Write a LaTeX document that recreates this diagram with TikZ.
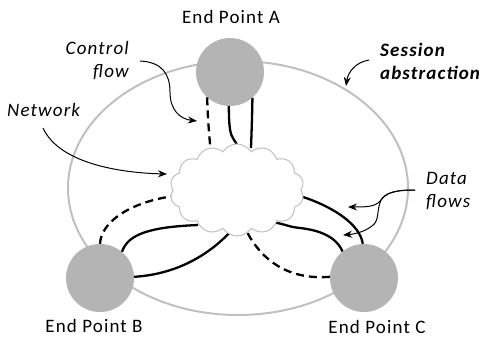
\documentclass[tikz,border=0pt]{standalone}
\usepackage{fontspec}
\setmainfont{Carlito}[LetterSpace=6]
\usetikzlibrary{shapes.symbols,arrows.meta,calc}
\definecolor{endpt}{HTML}{B4B4B4}
\definecolor{rim}{HTML}{C0C0C0}
\begin{document}
\begin{tikzpicture}[x=1pt,y=-1pt,
  lbl/.style={font=\fontsize{19}{23}\selectfont, inner sep=0pt},
  note/.style={font=\fontsize{19}{23}\selectfont\itshape, inner sep=0pt},
  endpoint/.style={circle, fill=endpt, minimum size=68pt, inner sep=0pt},
  flow/.style={line width=2.3pt, black},
  ctrl/.style={flow, dash pattern=on 8pt off 5pt},
  pointer/.style={line width=1pt, -{Stealth[length=9pt,width=7pt]}}]
\useasboundingbox (0,0) rectangle (483,341);

% session abstraction boundary
\draw[rim, line width=2pt] (238,188) ellipse [x radius=170, y radius=127];

% end points and network
\node[endpoint] (A) at (230,72) {};
\node[endpoint] (B) at (100,278) {};
\node[endpoint] (C) at (364,278) {};
\coordinate (netc) at (237,190);

% flows between end points and the network
\draw[ctrl] (A.228) .. controls (208,120) .. (211,156);
\draw[flow] (A.268) .. controls (229,128) and (230,134) .. (234,140) .. controls (237,144) .. (238,152);
\draw[flow] (A.311) .. controls (252,120) .. (251,148);

\draw[ctrl] (B.90) .. controls (101,222) and (130,202) .. (174,196);
\draw[flow] (B.50) .. controls (128,234) and (150,227) .. (198,225);
\draw[flow] (B.2) .. controls (180,274) and (212,252) .. (232,230);

\draw[flow] (C.92) .. controls (360,224) and (332,206) .. (300,196);
\draw[flow] (C.129) .. controls (336,236) and (318,230) .. (300,228) .. controls (288,227) and (283,223) .. (270,222);
\draw[ctrl] (C.178) .. controls (290,280) and (262,262) .. (246,230);

\node[cloud, draw=rim, fill=white, line width=1pt, cloud puffs=14, cloud puff arc=115,
      minimum width=134pt, minimum height=92pt, inner sep=0pt] (net) at (netc) {};

% labels
\node[lbl] (la) at (231,17) {End Point A};
\node[lbl] (lb) at (94,326) {End Point B};
\node[lbl] (lc) at (377,327) {End Point C};
\node[note, align=right, anchor=east] (lctrl) at (129,61) {Control\\flow};
\node[note, anchor=west] (lnet) at (7,110) {Network};
\node[note, font=\fontsize{19}{23}\selectfont\bfseries\itshape, align=left, anchor=west] (lses) at (380,61) {Session\\abstraction};
\node[note, align=left, anchor=west] (ldata) at (426,191) {Data\\flows};

% pointers
\coordinate (ctrlfrom) at (140,61);
\coordinate (ctrlto) at (197,121);
\draw[pointer] (ctrlfrom) .. controls (162,62) and (170,74) .. (170,92) .. controls (170,110) and (180,119) .. (ctrlto);
\coordinate (netfrom) at (43,128);
\coordinate (netto) at (167,174);
\draw[pointer] (netfrom) .. controls (60,165) and (125,173) .. (netto);
\coordinate (sesfrom) at (369,60);
\coordinate (sesto) at (346,86);
\draw[pointer] (sesfrom) .. controls (356,62) and (348,72) .. (sesto);
\coordinate (datafrom) at (415,190);
\coordinate (datafork) at (381,200);
\coordinate (datato1) at (348,207);
\coordinate (datato2) at (343,235);
\draw[pointer] (datafrom) .. controls (394,190) and (386,193) .. (datafork) .. controls (376,207) and (366,207) .. (datato1);
\draw[pointer] (datafrom) .. controls (394,190) and (386,193) .. (datafork) .. controls (376,212) and (380,220) .. (372,226) .. controls (364,232) and (355,234) .. (datato2);
\end{tikzpicture}
\end{document}
